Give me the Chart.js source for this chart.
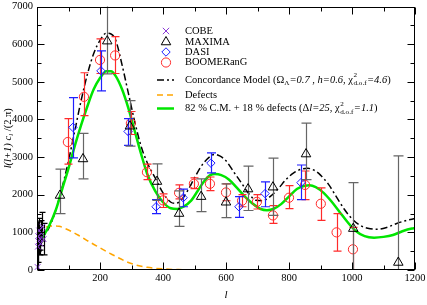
<!DOCTYPE html>
<html><head><meta charset="utf-8">
<script src="https://cdn.jsdelivr.net/npm/chart.js@4.4.1/dist/chart.umd.min.js"></script>
<style>html,body{margin:0;padding:0;background:#fff}canvas{display:block}</style>
</head><body>
<canvas id="c" width="427" height="305"></canvas>
<script>
// ---------- data ----------
const xTickValues = [0, 200, 400, 600, 800, 1000, 1200];
const yTickValues = [0, 1000, 2000, 3000, 4000, 5000, 6000, 7000];

const cobeL   = [2, 3, 4, 5, 7, 9, 11, 14, 17, 21];
const cobeV   = [80, 620, 900, 760, 1050, 830, 700, 980, 1150, 820];
const cobeErr = [450, 420, 380, 350, 320, 300, 300, 330, 380, 420];

const maximaL  = [73, 146, 223, 295, 381, 451, 521, 600, 670, 749, 854, 1004, 1147];
const maximaV  = [1980, 2950, 6080, 3820, 2350, 1500, 1950, 1800, 2150, 2200, 3080, 1100, 200];
const maximaLo = [1500, 2420, 5210, 3290, 1850, 1160, 1550, 1390, 1580, 1450, 2400, 0, 0];
const maximaHi = [2680, 3630, 7300, 4500, 2820, 2100, 2420, 2290, 2760, 2970, 3900, 2320, 3030];

const dasiL  = [114, 203, 289, 378, 464, 552, 641, 724, 838];
const dasiV  = [3790, 5290, 3680, 1680, 1920, 2840, 1680, 2030, 2320];
const dasiLo = [2980, 4760, 3310, 1500, 1680, 2580, 1400, 1680, 1870];
const dasiHi = [4580, 5820, 4020, 1870, 2150, 3110, 1950, 2340, 2790];

const boomL  = [98, 149, 200, 248, 298, 349, 400, 451, 498, 549, 600, 651, 698, 749, 800, 851, 901, 951, 1003];
const boomV  = [3400, 4600, 5580, 5700, 3900, 2600, 1850, 2050, 2290, 2290, 2060, 1840, 1810, 1450, 1920, 2260, 1760, 1000, 550];
const boomLo = [2810, 4100, 5220, 5220, 3600, 2400, 1660, 1890, 2160, 2110, 1840, 1680, 1620, 1240, 1630, 1870, 1320, 500, 0];
const boomHi = [4020, 5240, 6140, 6200, 4210, 2810, 2020, 2260, 2450, 2470, 2290, 2000, 2000, 1710, 2240, 2630, 2180, 1500, 1130];

const concL = [2, 10, 20, 40, 60, 80, 100, 120, 140, 160, 180, 200, 220, 235, 250, 270, 290, 310, 330, 350, 375, 400, 425, 440, 460, 480, 500, 525, 550, 565, 580, 600, 625, 650, 675, 695, 715, 740, 765, 790, 815, 840, 860, 880, 900, 925, 950, 975, 1000, 1025, 1050, 1080, 1110, 1140, 1170, 1200];
const concV = [850, 800, 900, 1150, 1600, 2200, 2900, 3700, 4500, 5200, 5750, 6100, 6290, 6270, 6100, 5450, 4700, 3950, 3300, 2850, 2450, 2050, 1800, 1770, 1880, 2130, 2450, 2800, 3020, 3070, 3030, 2900, 2600, 2300, 2000, 1850, 1840, 1950, 2150, 2400, 2580, 2680, 2700, 2650, 2520, 2280, 1950, 1620, 1360, 1190, 1110, 1080, 1130, 1230, 1310, 1370];

const defL = [2, 15, 30, 50, 70, 90, 110, 130, 150, 170, 200, 230, 260, 290, 320, 350, 400, 450, 500, 700, 900, 1200];
const defV = [1000, 1080, 1140, 1170, 1160, 1100, 1020, 930, 830, 730, 590, 450, 320, 200, 120, 70, 30, 10, 0, 0, 0, 0];

const mixL = [2, 10, 20, 40, 60, 80, 100, 120, 140, 160, 180, 200, 220, 235, 250, 270, 290, 310, 330, 350, 375, 400, 425, 445, 465, 490, 510, 530, 550, 565, 585, 610, 635, 660, 685, 710, 730, 750, 775, 800, 825, 850, 865, 885, 910, 935, 960, 985, 1010, 1040, 1070, 1100, 1130, 1160, 1190, 1200];
const mixV = [800, 800, 900, 1200, 1600, 2150, 2700, 3300, 3850, 4350, 4800, 5100, 5280, 5280, 5150, 4800, 4300, 3700, 3100, 2550, 2100, 1800, 1640, 1620, 1680, 1850, 2100, 2350, 2520, 2550, 2520, 2400, 2180, 1950, 1760, 1620, 1590, 1620, 1750, 1950, 2150, 2240, 2250, 2200, 2050, 1820, 1550, 1280, 1050, 900, 860, 880, 930, 1030, 1100, 1110];

// ---------- styling ----------
const SERIF = '"Liberation Serif", "Times New Roman", serif';
const FS = 10.5;
const C_COBE = '#8a3ad6', C_MAX = '#000000', C_MAXERR = '#666666', C_DASI = '#1f1fff', C_BOOM = '#ff2a2a';
const C_GREEN = '#00e600', C_ORANGE = '#ffa500';

const zip = (a, b) => a.map((v, i) => ({x: v, y: b[i]}));

function fnt(size, italic) { return (italic ? 'italic ' : '') + size + 'px ' + SERIF; }
function drawRich(ctx, x, y, segs, size) {
  ctx.textBaseline = 'middle'; ctx.textAlign = 'left'; ctx.fillStyle = '#000';
  for (const s of segs) {
    if (s.ss) {
      ctx.font = fnt(size * 0.68, false);
      const w1 = ctx.measureText(s.sup).width, w2 = ctx.measureText(s.sub).width;
      ctx.fillText(s.sup, x + 0.5, y - size * 0.42);
      ctx.fillText(s.sub, x + 0.5, y + size * 0.32);
      x += Math.max(w1, w2) + 1;
    } else if (s.sub) {
      ctx.font = fnt(size * 0.68, s.i);
      ctx.fillText(s.t, x, y + size * 0.32);
      x += ctx.measureText(s.t).width;
    } else {
      ctx.font = fnt(size, s.i);
      ctx.fillText(s.t, x, y);
      x += ctx.measureText(s.t).width;
    }
  }
  return x;
}
function richWidth(ctx, segs, size) {
  let w = 0;
  for (const s of segs) {
    if (s.ss) { ctx.font = fnt(size * 0.68, false); w += Math.max(ctx.measureText(s.sup).width, ctx.measureText(s.sub).width) + 1; }
    else { ctx.font = fnt(s.sub ? size * 0.68 : size, s.i); w += ctx.measureText(s.t).width; }
  }
  return w;
}

const errorBars = {
  id: 'errorBars',
  beforeDatasetDraw(chart, args) {
    const ds = chart.data.datasets[args.index];
    if (!ds.errLo) return;
    const xs = chart.scales.x, ys = chart.scales.y, ctx = chart.ctx, a = chart.chartArea;
    ctx.save();
    ctx.beginPath(); ctx.rect(a.left, a.top, a.right - a.left, a.bottom - a.top); ctx.clip();
    ctx.strokeStyle = ds.errColor; ctx.lineWidth = ds.errWidth;
    ds.data.forEach((p, i) => {
      const px = Math.round(xs.getPixelForValue(p.x)) + 0.5;
      const y1 = ys.getPixelForValue(ds.errLo[i]), y2 = ys.getPixelForValue(ds.errHi[i]);
      ctx.beginPath();
      ctx.moveTo(px, y1); ctx.lineTo(px, y2);
      ctx.moveTo(px - ds.capW, y1); ctx.lineTo(px + ds.capW, y1);
      ctx.moveTo(px - ds.capW, y2); ctx.lineTo(px + ds.capW, y2);
      ctx.stroke();
    });
    ctx.restore();
  }
};

const legendItems = [
  {kind: 'pt', style: 'crossRot', color: C_COBE, r: 4.5, y: 31, segs: [{t: 'COBE'}]},
  {kind: 'pt', style: 'triangle', color: C_MAX, r: 5.5, y: 42, segs: [{t: 'MAXIMA'}]},
  {kind: 'pt', style: 'rectRot', color: C_DASI, r: 4.2, y: 52, segs: [{t: 'DASI'}]},
  {kind: 'pt', style: 'circle', color: C_BOOM, r: 4.6, y: 62.5, segs: [{t: 'BOOMERanG'}]},
  {kind: 'ln', color: '#000', w: 1.5, dash: [7, 3, 2, 3], y: 80, segs: [
    {t: 'Concordance Model ('}, {t: 'Ω'}, {t: 'Λ', sub: true}, {t: '=0.7', i: true}, {t: ' , '},
    {t: 'h=0.6', i: true}, {t: ', '}, {t: 'χ'}, {ss: true, sup: '2', sub: 'd.o.f'}, {t: '=4.6', i: true}, {t: ')'}]},
  {kind: 'ln', color: C_ORANGE, w: 1.5, dash: [6, 4], y: 95, segs: [{t: 'Defects'}]},
  {kind: 'ln', color: C_GREEN, w: 2.5, dash: [], y: 108.5, segs: [
    {t: '82 % C.M. + 18 % defects ('}, {t: 'Δ'}, {t: 'l=25', i: true}, {t: ', '}, {t: 'χ'},
    {ss: true, sup: '2', sub: 'd.o.f'}, {t: '=1.1', i: true}, {t: ')'}]}
];

const frameAndDecor = {
  id: 'frameAndDecor',
  afterDraw(chart) {
    const {ctx, chartArea: a, scales: {x, y}} = chart;
    ctx.save();
    ctx.strokeStyle = '#000'; ctx.lineWidth = 1;
    const L = Math.round(a.left) + 0.5, R = Math.round(a.right) - 0.5, T = Math.round(a.top) + 0.5, B = Math.round(a.bottom) - 0.5;
    ctx.strokeRect(L, T, R - L, B - T);
    ctx.beginPath();
    for (let v = 0; v <= 1200; v += 100) {
      const px = Math.round(x.getPixelForValue(v)) + 0.5;
      const len = xTickValues.includes(v) ? 7 : 4;
      ctx.moveTo(px, B); ctx.lineTo(px, B - len);
      ctx.moveTo(px, T); ctx.lineTo(px, T + len);
    }
    for (let v = 0; v <= 7000; v += 500) {
      const py = Math.round(y.getPixelForValue(v)) + 0.5;
      const len = yTickValues.includes(v) ? 7 : 4;
      ctx.moveTo(L, py); ctx.lineTo(L + len, py);
      ctx.moveTo(R, py); ctx.lineTo(R - len, py);
    }
    ctx.stroke();

    // y axis title
    const ySegs = [{t: 'l(l+1) c', i: true}, {t: 'l', i: true, sub: true}, {t: ' /(2 π)'}];
    const w = richWidth(ctx, ySegs, FS);
    ctx.save();
    ctx.translate(8, (a.top + a.bottom) / 2);
    ctx.rotate(-Math.PI / 2);
    drawRich(ctx, -w / 2, 0, ySegs, FS);
    ctx.restore();

    // legend
    for (const it of legendItems) {
      if (it.kind === 'pt') {
        ctx.save();
        ctx.strokeStyle = it.color; ctx.fillStyle = 'rgba(0,0,0,0)'; ctx.lineWidth = 1;
        Chart.helpers.drawPoint(ctx, {pointStyle: it.style, radius: it.r, rotation: 0, borderWidth: 1}, 166, it.y);
        ctx.restore();
      } else {
        ctx.save();
        ctx.strokeStyle = it.color; ctx.lineWidth = it.w; ctx.setLineDash(it.dash);
        ctx.beginPath(); ctx.moveTo(157, it.y); ctx.lineTo(174, it.y); ctx.stroke();
        ctx.restore();
      }
      drawRich(ctx, 185, it.y, it.segs, FS);
    }
    ctx.restore();
  }
};

const lineDs = (label, L, V, color, width, dash) => ({
  type: 'scatter', label, data: zip(L, V), showLine: true, borderColor: color, borderWidth: width,
  borderDash: dash, pointRadius: 0, cubicInterpolationMode: 'monotone', fill: false, order: 10
});
const ptDs = (label, L, V, lo, hi, color, style, r, errColor, capW) => ({
  type: 'scatter', label, data: zip(L, V), showLine: false, pointStyle: style, pointRadius: r,
  borderColor: color, backgroundColor: 'rgba(0,0,0,0)', borderWidth: 1, pointBorderWidth: 1,
  errLo: lo, errHi: hi, errColor, errWidth: 1.2, capW, clip: false, order: 1
});

new Chart(document.getElementById('c'), {
  type: 'scatter',
  data: {
    datasets: [
      ptDs('COBE', cobeL, cobeV, cobeV.map((v, i) => v - cobeErr[i]), cobeV.map((v, i) => v + cobeErr[i]), C_COBE, 'crossRot', 4, '#000', 3),
      ptDs('MAXIMA', maximaL, maximaV, maximaLo, maximaHi, C_MAX, 'triangle', 5.5, C_MAXERR, 5),
      ptDs('DASI', dasiL, dasiV, dasiLo, dasiHi, C_DASI, 'rectRot', 4.2, C_DASI, 4.5),
      ptDs('BOOMERanG', boomL, boomV, boomLo, boomHi, C_BOOM, 'circle', 4.6, C_BOOM, 4),
      lineDs('82 % C.M. + 18 % defects', mixL, mixV, C_GREEN, 2.5, []),
      lineDs('Defects', defL, defV, C_ORANGE, 1.5, [6, 4]),
      lineDs('Concordance Model', concL, concV, '#000', 1.5, [7, 3, 2, 3])
    ]
  },
  options: {
    responsive: false, animation: false, devicePixelRatio: 1,
    layout: {padding: {top: 4, right: 12, left: 0, bottom: 0}},
    plugins: {legend: {display: false}, tooltip: {enabled: false}},
    scales: {
      x: {
        type: 'linear', min: 0, max: 1200,
        grid: {display: false, drawTicks: false}, border: {display: false},
        ticks: {stepSize: 200, padding: 2, color: '#000', font: {family: SERIF, size: FS},
          callback: v => (v === 0 ? '' : String(v)), maxRotation: 0},
        afterBuildTicks: s => { s.ticks = xTickValues.map(v => ({value: v})); },
        title: {display: true, text: 'l', color: '#000', font: {family: SERIF, size: 11, style: 'italic'}, padding: {top: 0, bottom: 3}},
        afterFit: s => { s.height = 35; s.paddingLeft = 0; s.paddingRight = 0; }
      },
      y: {
        type: 'linear', min: 0, max: 7000,
        grid: {display: false, drawTicks: false}, border: {display: false},
        ticks: {stepSize: 1000, padding: 4, color: '#000', font: {family: SERIF, size: FS},
          callback: v => String(v)},
        afterBuildTicks: s => { s.ticks = yTickValues.map(v => ({value: v})); },
        afterFit: s => { s.width = 37; s.paddingTop = 0; s.paddingBottom = 0; }
      }
    }
  },
  plugins: [errorBars, frameAndDecor]
});
</script>
</body></html>
